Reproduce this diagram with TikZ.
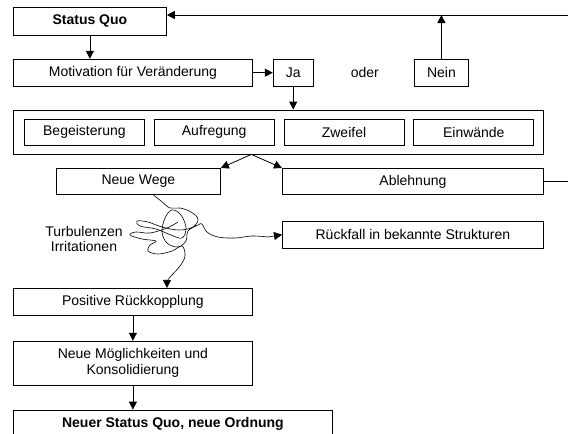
\documentclass[tikz,border=0pt]{standalone}
\usepackage{fontspec}
\setmainfont{Liberation Sans}
\usetikzlibrary{arrows.meta,positioning}

\begin{document}
\begin{tikzpicture}[
    x=1pt, y=-1pt,
    font=\fontsize{14pt}{16pt}\selectfont,
    box/.style={draw, line width=0.8pt, inner sep=0pt, align=center, minimum height=27pt},
    bold/.style={font=\fontsize{14pt}{16pt}\selectfont\bfseries},
    line/.style={-{Triangle[length=8pt, width=8pt]}, line width=0.8pt},
    wiggle/.style={-{Triangle[length=8pt, width=8pt]}, line width=0.6pt},
  ]
    \useasboundingbox (0,0) rectangle (568,434);

    \node[box, bold, minimum width=153pt, minimum height=28pt, anchor=north west] (sq) at (13,6.5) {Status Quo};
    \node[box, minimum width=239pt, below right=23.5pt and 0pt of sq.south west] (mot) {Motivation für Veränderung};
    \node[box, minimum width=40pt, right=20pt of mot] (ja) {Ja};
    \node[inner sep=0pt, right=37pt of ja] (oder) {oder};
    \node[box, minimum width=54pt, right=35pt of oder] (nein) {Nein};
    \coordinate (fb) at (568,15);

    \node[box, minimum width=530pt, minimum height=44pt, below right=23pt and 0pt of mot.south west] (big) {};
    \node[box, minimum width=120pt, minimum height=26pt, right=11pt of big.west] (beg) {Begeisterung};
    \node[box, minimum width=120pt, minimum height=26pt, right=9pt of beg] (aufr) {Aufregung};
    \node[box, minimum width=120pt, minimum height=26pt, right=9pt of aufr] (zw) {Zweifel};
    \node[box, minimum width=120pt, minimum height=26pt, right=9pt of zw] (einw) {Einwände};
    \coordinate (split) at ([xshift=-27pt]big.south);

    \node[box, minimum width=164pt, minimum height=26pt, anchor=north west] (neuwege) at (56,168) {Neue Wege};
    \node[box, minimum width=261pt, minimum height=26pt, anchor=north west] (abl) at (282,168) {Ablehnung};
    \node[box, minimum width=261pt, below right=26pt and 0pt of abl.south west] (rueck) {Rückfall in bekannte Strukturen};
    \node[align=center, inner sep=0pt, font=\fontsize{14pt}{15pt}\selectfont] (turb) at (84,239) {Turbulenzen\\Irritationen};

    \node[box, minimum width=239pt, anchor=north west] (posrk) at (13,288) {Positive Rückkopplung};
    \node[box, minimum width=239pt, minimum height=44pt, below right=25pt and 0pt of posrk.south west] (moegl) {Neue Möglichkeiten und\\Konsolidierung};
    \node[box, bold, minimum width=319pt, minimum height=28pt, below right=24pt and 0pt of moegl.south west] (neusq) {Neuer Status Quo, neue Ordnung};

    \draw[line] (sq.south) -- (sq.south |- mot.north);
    \draw[line] (mot) -- (ja);
    \draw[line] (ja) -- (ja |- big.north);
    \draw[line] (nein) -- (nein |- fb);
    \draw[line] (fb) -- (fb -| sq.east);
    \draw[line] (split) -- (neuwege.north east);
    \draw[line] (split) -- (abl.north west);
    \draw[line width=0.8pt] (abl.east) -- (abl.east -| fb);
    \draw[wiggle] plot[smooth, tension=0.6] coordinates {([xshift=15pt]neuwege.south) (161,201) (170,208) (180,208) (191,212) (198,219) (193,227) (179,230) (162,227) (148,222) (137,221) (140,226) (156,229) (171,235) (182,238) (186,228) (181,215) (172,210) (165,218) (162,232) (167,243) (178,247) (186,241) (188,231) (198,225) (202,224) (207,232) (218,237) (235,238) (252,236) (268,237)} -- (rueck.west);
    \draw[wiggle] plot[smooth, tension=0.6] coordinates {(178,222) (167,228) (150,233) (136,232) (130,235) (142,239) (156,241) (150,245) (148,251) (158,254) (172,251) (182,246) (185,256) (180,266) (171,276) (167,281)} -- ([xshift=34pt]posrk.north);
    \draw[line] (posrk) -- (moegl);
    \draw[line] (moegl.south) -- (moegl.south |- neusq.north);
  \end{tikzpicture}
\end{document}
